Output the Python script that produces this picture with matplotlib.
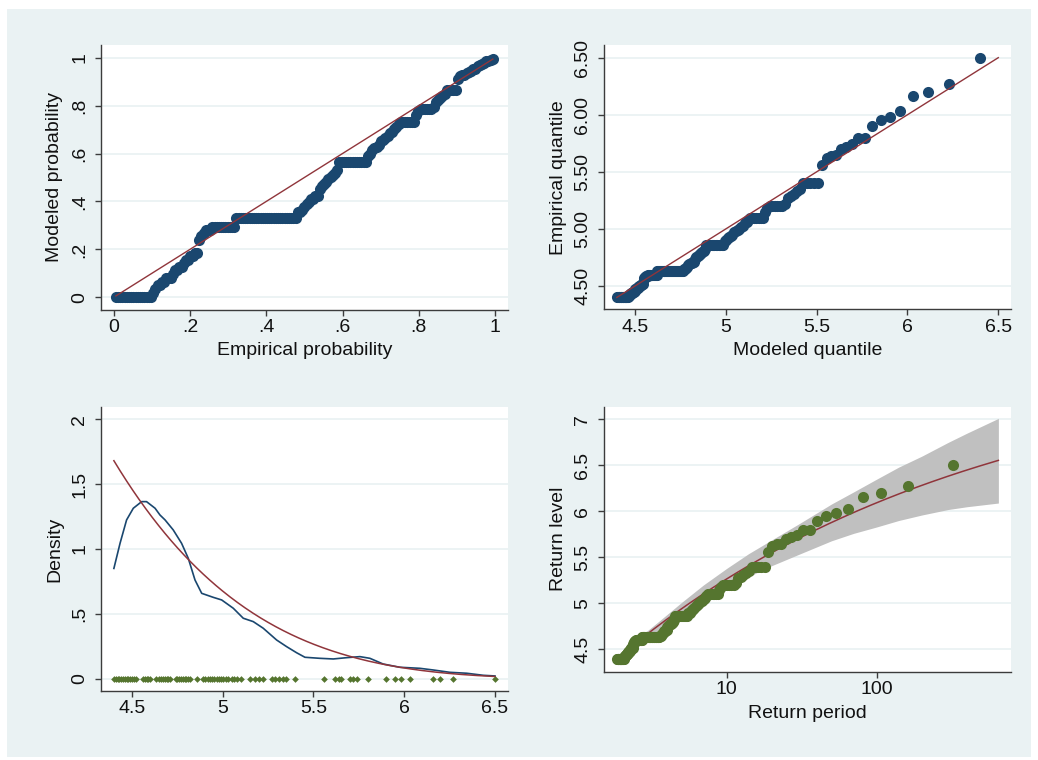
import numpy as np
import matplotlib
matplotlib.use("Agg")
import matplotlib.pyplot as plt
from matplotlib.patches import Rectangle
from matplotlib.ticker import FixedLocator, NullLocator

plt.rcParams['font.family'] = ['Liberation Sans', 'DejaVu Sans']

# ---------------- data ----------------
# sorted distinct observed values (exceedances over the threshold) and their counts
obs_values = [4.40, 4.41, 4.42, 4.43, 4.44, 4.45, 4.46, 4.47, 4.48, 4.49, 4.50, 4.51, 4.52,
              4.56, 4.57, 4.58, 4.59, 4.60, 4.63,
              4.65, 4.66, 4.67, 4.68, 4.69, 4.70, 4.71,
              4.74, 4.75, 4.76, 4.77, 4.78, 4.79, 4.80, 4.81, 4.82,
              4.86,
              4.89, 4.90, 4.92, 4.93, 4.94, 4.95, 4.97, 4.98, 4.99, 5.00, 5.02, 5.03, 5.05, 5.06, 5.08,
              5.10, 5.15, 5.18, 5.20, 5.22, 5.27, 5.29, 5.31, 5.33, 5.35, 5.40,
              5.56, 5.62, 5.64, 5.65, 5.70, 5.72, 5.74, 5.80, 5.90, 5.95, 5.98, 6.03,
              6.16, 6.20, 6.27, 6.50]
obs_counts = [17, 1, 1, 2, 2, 3, 1, 2, 2, 1, 2, 2, 2,
              1, 1, 1, 3, 11, 28,
              2, 1, 1, 1, 1, 2, 2,
              1, 1, 1, 1, 1, 1, 1, 1, 1,
              13,
              1, 1, 1, 1, 1, 1, 1, 1, 1, 1, 1, 1, 1, 1, 1,
              7, 1, 1, 6, 1, 1, 1, 1, 1, 1, 5,
              1, 1, 1, 1, 1, 1, 1, 2, 1, 1, 1, 1,
              1, 1, 1, 1]

# fitted generalized Pareto model (as shown by the red model curves)
gpd_threshold = 4.4
gpd_scale = 0.595
gpd_shape = -0.18
exceed_rate = 0.54          # exceedances per period

# kernel density estimate (blue curve)
kde_x = [4.40, 4.434, 4.47, 4.507, 4.553, 4.58, 4.627, 4.654, 4.682, 4.727, 4.773, 4.81,
         4.847, 4.884, 4.948, 4.994, 5.058, 5.113, 5.168, 5.223, 5.297, 5.352, 5.407,
         5.453, 5.535, 5.609, 5.683, 5.756, 5.811, 5.884, 5.976, 6.086, 6.16, 6.252,
         6.344, 6.436, 6.50]
kde_y = [0.85, 1.044, 1.224, 1.314, 1.365, 1.365, 1.314, 1.262, 1.224, 1.147, 1.044, 0.928,
         0.761, 0.658, 0.627, 0.607, 0.543, 0.466, 0.44, 0.389, 0.298, 0.247, 0.20,
         0.165, 0.157, 0.152, 0.162, 0.17, 0.157, 0.113, 0.088, 0.08, 0.067, 0.049,
         0.042, 0.026, 0.021]

# confidence band of the return level
band_period = [2.7, 3.5, 5, 7, 10, 14, 20, 30, 50, 70, 100, 140, 200, 300, 400, 647]
band_lower = [4.59, 4.71, 4.87, 5.02, 5.16, 5.29, 5.41, 5.53, 5.68, 5.76, 5.83, 5.90, 5.96, 6.02, 6.05, 6.09]
band_upper = [4.65, 4.80, 5.01, 5.20, 5.38, 5.54, 5.69, 5.86, 6.08, 6.21, 6.35, 6.48, 6.60, 6.75, 6.85, 7.01]
rl_period_range = [2.7, 647]

# tick labels
pp_ticks = [0, 0.2, 0.4, 0.6, 0.8, 1]
pp_ticklabels = ['0', '.2', '.4', '.6', '.8', '1']
qq_xticks = [4.5, 5, 5.5, 6, 6.5]
qq_xticklabels = ['4.5', '5', '5.5', '6', '6.5']
qq_yticks = [4.5, 5, 5.5, 6, 6.5]
qq_yticklabels = ['4.50', '5.00', '5.50', '6.00', '6.50']
dens_xticks = [4.5, 5, 5.5, 6, 6.5]
dens_xticklabels = ['4.5', '5', '5.5', '6', '6.5']
dens_yticks = [0, 0.5, 1, 1.5, 2]
dens_yticklabels = ['0', '.5', '1', '1.5', '2']
rl_xticks = [10, 100]
rl_xticklabels = ['10', '100']
rl_yticks = [4.5, 5, 5.5, 6, 6.5, 7]
rl_yticklabels = ['4.5', '5', '5.5', '6', '6.5', '7']

# ---------------- derived quantities ----------------
sample = np.repeat(np.array(obs_values), obs_counts)
n = sample.size
rank = np.arange(1, n + 1)
emp_prob = rank / (n + 1.0)


def gpd_cdf(x):
    z = 1 + gpd_shape * (np.asarray(x) - gpd_threshold) / gpd_scale
    return 1 - z ** (-1.0 / gpd_shape)


def gpd_ppf(p):
    return gpd_threshold + gpd_scale / gpd_shape * ((1 - np.asarray(p)) ** (-gpd_shape) - 1)


def gpd_pdf(x):
    z = 1 + gpd_shape * (np.asarray(x) - gpd_threshold) / gpd_scale
    return z ** (-1.0 / gpd_shape - 1) / gpd_scale


def return_level(T):
    return gpd_threshold + gpd_scale / gpd_shape * ((exceed_rate * np.asarray(T)) ** gpd_shape - 1)


mod_prob = gpd_cdf(sample)
mod_quant = gpd_ppf(emp_prob)
ret_period = 1.0 / (exceed_rate * (1 - emp_prob))

# ---------------- styling ----------------
NAVY = '#1a476f'
MAROON = '#90353b'
GREEN = '#55752f'
BG = '#EAF2F3'
AXC = '#3c3c3c'

W, H = 1038, 760
fig = plt.figure(figsize=(W / 100, H / 100), dpi=100)
fig.patch.set_facecolor('white')
fig.add_artist(Rectangle((7 / W, 1 - 757 / H), (1031 - 7) / W, (757 - 9) / H,
                         transform=fig.transFigure, facecolor=BG, edgecolor='none', zorder=0))


def px_axes(l, t, r, b):
    return fig.add_axes([l / W, 1 - b / H, (r - l) / W, (b - t) / H])


def style(ax, xt, xtl, yt, ytl):
    ax.set_facecolor('white')
    for s in ['top', 'right']:
        ax.spines[s].set_visible(False)
    for s in ['left', 'bottom']:
        ax.spines[s].set_color(AXC)
        ax.spines[s].set_linewidth(1.0)
    ax.xaxis.set_major_locator(FixedLocator(xt))
    ax.set_xticklabels(xtl)
    ax.yaxis.set_major_locator(FixedLocator(yt))
    ax.set_yticklabels(ytl)
    ax.xaxis.set_minor_locator(NullLocator())
    ax.yaxis.set_minor_locator(NullLocator())
    ax.tick_params(direction='out', length=4.3, width=1.0, color=AXC,
                   labelsize=14, labelcolor='#111111')
    ax.tick_params(axis='x', pad=2.5)
    ax.tick_params(axis='y', pad=5, labelrotation=90)
    plt.setp(ax.get_yticklabels(), va='center')
    ax.grid(axis='y', color=BG, lw=1.3)
    ax.grid(axis='x', visible=False)
    ax.set_axisbelow(True)


def label(xpx, ypx, text, rot=0):
    fig.text(xpx / W, 1 - ypx / H, text, rotation=rot, ha='center', va='center',
             fontsize=14, color='#111111')


# ---- Panel 1: P-P plot ----
ax1 = px_axes(101, 45, 508, 310)
ax1.plot(emp_prob, mod_prob, 'o', ms=8, mew=0, color=NAVY, zorder=3)
ax1.plot([emp_prob[0], emp_prob[-1]], [emp_prob[0], emp_prob[-1]], color=MAROON, lw=1.0, zorder=4)
ax1.set_xlim(-0.0333, 1.034)
ax1.set_ylim(-0.053, 1.053)
style(ax1, pp_ticks, pp_ticklabels, pp_ticks, pp_ticklabels)
label(55, 177.5, 'Modeled probability', 90)
label(304.5, 350.5, 'Empirical probability')

# ---- Panel 2: Q-Q plot ----
ax2 = px_axes(604.3, 45, 1011, 309.3)
ax2.plot(mod_quant, sample, 'o', ms=8, mew=0, color=NAVY, zorder=3)
ax2.plot([sample.min(), sample.max()], [sample.min(), sample.max()], color=MAROON, lw=1.0, zorder=4)
ax2.set_xlim(4.331, 6.57)
ax2.set_ylim(4.296, 6.611)
style(ax2, qq_xticks, qq_xticklabels, qq_yticks, qq_yticklabels)
label(558.3, 177.5, 'Empirical quantile', 90)
label(807.7, 350.5, 'Modeled quantile')

# ---- Panel 3: density ----
ax3 = px_axes(101, 406.7, 508, 691)
ax3.plot(obs_values, np.zeros(len(obs_values)), 'D', ms=3.4, mew=0, color=GREEN, zorder=2)
ax3.plot(kde_x, kde_y, color=NAVY, lw=1.2, zorder=3)
xs = np.linspace(sample.min(), sample.max(), 300)
ax3.plot(xs, gpd_pdf(xs), color=MAROON, lw=1.1, zorder=4)
ax3.set_xlim(4.329, 6.572)
ax3.set_ylim(-0.095, 2.097)
style(ax3, dens_xticks, dens_xticklabels, dens_yticks, dens_yticklabels)
label(55, 548.9, 'Density', 90)

# ---- Panel 4: return level ----
ax4 = px_axes(604.3, 406.7, 1011, 671.7)
ax4.set_xscale('log')
ax4.fill_between(band_period, band_lower, band_upper, color='#c0c0c0', lw=0, zorder=1)
ts = np.geomspace(rl_period_range[0], rl_period_range[1], 300)
ax4.plot(ts, return_level(ts), color=MAROON, lw=1.1, zorder=2)
ax4.plot(ret_period, sample, 'o', ms=8, mew=0, color=GREEN, zorder=3)
ax4.set_xlim(10 ** 0.184, 10 ** 2.895)
ax4.set_ylim(4.257, 7.137)
style(ax4, rl_xticks, rl_xticklabels, rl_yticks, rl_yticklabels)
label(558.3, 539.2, 'Return level', 90)
label(807.7, 713.0, 'Return period')

fig.savefig('out.png', dpi=100, facecolor=fig.get_facecolor())
